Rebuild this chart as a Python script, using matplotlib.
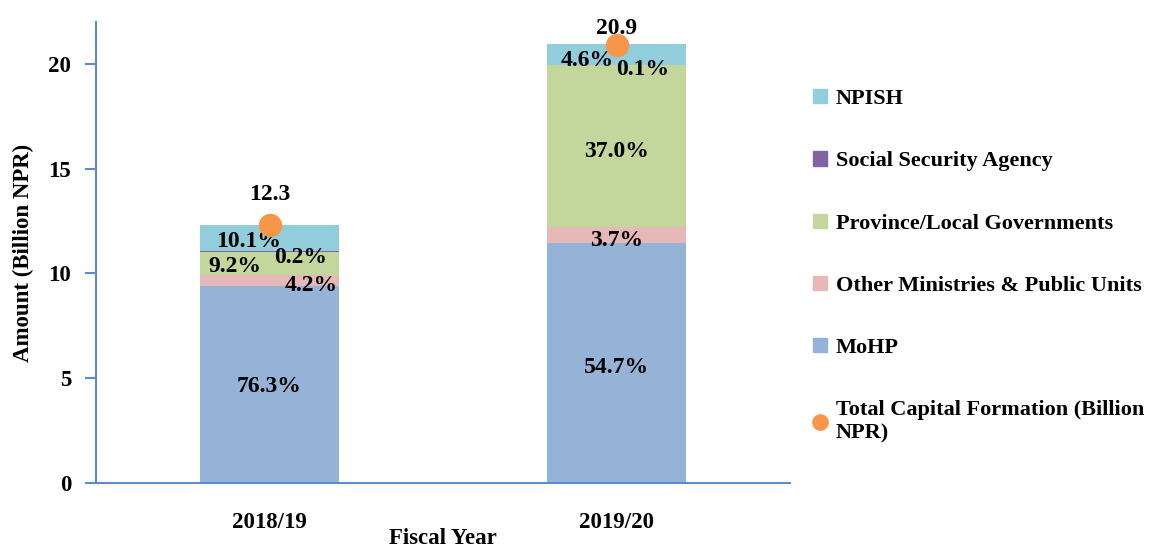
import matplotlib.pyplot as plt
from matplotlib.patches import Patch
from matplotlib.lines import Line2D
import numpy as np

plt.rcParams['font.family'] = ['Liberation Serif', 'DejaVu Serif']
plt.rcParams['font.weight'] = 'bold'

years = ['2018/19', '2019/20']
totals = [12.3, 20.9]
# shares of total capital formation (%), bottom to top
segments = ['MoHP', 'Other Ministries & Public Units', 'Province/Local Governments',
            'Social Security Agency', 'NPISH']
shares = {
    'MoHP': [76.3, 54.7],
    'Other Ministries & Public Units': [4.2, 3.7],
    'Province/Local Governments': [9.2, 37.0],
    'Social Security Agency': [0.2, 0.1],
    'NPISH': [10.1, 4.6],
}
colors = {
    'MoHP': '#95B3D7',
    'Other Ministries & Public Units': '#E6B9B8',
    'Province/Local Governments': '#C3D69B',
    'Social Security Agency': '#8064A2',
    'NPISH': '#92CDDC',
}
# label nudges (x, y) in data units, per segment per year
nudges = {
    'MoHP': [(0, -0.1), (0, -0.2)],
    'Other Ministries & Public Units': [(0.12, -0.2), (0, -0.25)],
    'Province/Local Governments': [(-0.10, -0.15), (0, -0.25)],
    'Social Security Agency': [(0.09, -0.3), (0.075, -0.2)],
    'NPISH': [(-0.06, -0.15), (-0.085, -0.3)],
}

axis_blue = '#5B8BD0'
fig = plt.figure(figsize=(11.49, 5.47), dpi=100)
ax = fig.add_axes([0.0836, 0.117, 0.604, 0.843])

x = np.arange(len(years))
bottom = np.zeros(len(years))
for seg in segments:
    vals = np.array(totals) * np.array(shares[seg]) / 100
    ax.bar(x, vals, 0.40, bottom=bottom, color=colors[seg], linewidth=0)
    for i in range(len(years)):
        dx, dy = nudges[seg][i]
        ax.text(x[i] + dx, bottom[i] + vals[i] / 2 + dy, f'{shares[seg][i]:.1f}%',
                ha='center', va='center', fontsize=17, fontweight='bold')
    bottom += vals

ax.scatter(x, totals, s=250, color='#F79646', zorder=5)
for i in range(len(years)):
    ax.text(x[i], totals[i] + 0.95 if i == 0 else totals[i] + 0.3, f'{totals[i]}',
            ha='center', va='bottom', fontsize=17, fontweight='bold')

ax.set_xlim(-0.5, 1.5)
ax.set_ylim(0, 22)
ax.set_yticks([0, 5, 10, 15, 20])
ax.set_xticks(x)
ax.set_xticklabels(years)
ax.tick_params(axis='y', colors=axis_blue, length=8, width=1.5, labelcolor='black', labelsize=16.5, pad=10)
ax.tick_params(axis='x', length=0, labelsize=16.5, pad=21)
for s in ['top', 'right']:
    ax.spines[s].set_visible(False)
for s in ['left', 'bottom']:
    ax.spines[s].set_color(axis_blue)
    ax.spines[s].set_linewidth(1.5)
ax.set_ylabel('Amount (Billion NPR)', fontsize=16.5, fontweight='bold', labelpad=10)
ax.set_xlabel('Fiscal Year', fontsize=16.5, fontweight='bold')
ax.xaxis.set_label_coords(0.5, -0.098)

handles = [Patch(color=colors[s]) for s in segments[::-1]]
labels = segments[::-1]
handles.append(Line2D([], [], marker='o', color='#F79646', linestyle='none', markersize=11))
labels.append('Total Capital Formation (Billion\nNPR)')
fig.legend(handles, labels, loc='upper left', bbox_to_anchor=(0.708, 0.837), frameon=False,
           fontsize=16, labelspacing=1.9, handlelength=0.6, handleheight=0.6,
           handletextpad=0.4, borderaxespad=0, borderpad=0)

fig.savefig('out.png', dpi=100)
